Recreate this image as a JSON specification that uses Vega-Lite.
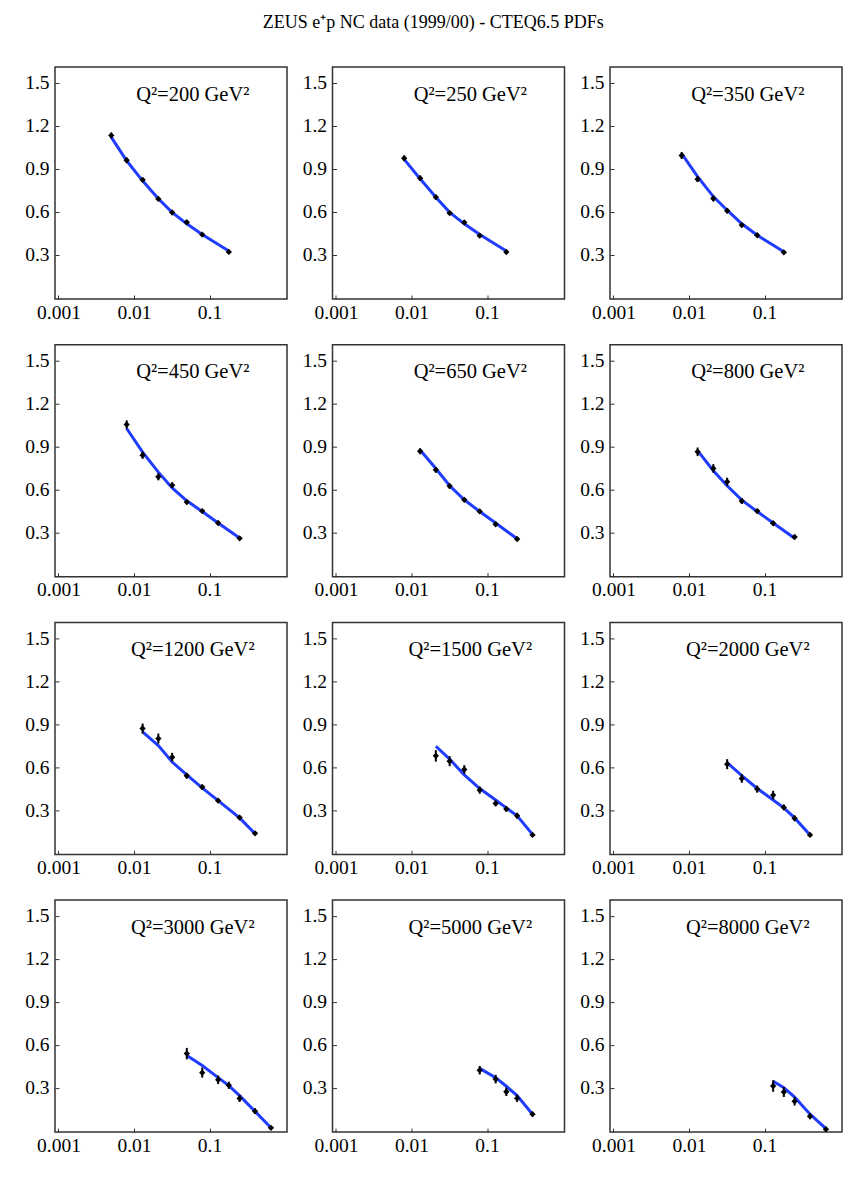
{
  "$schema": "https://vega.github.io/schema/vega-lite/v6.json",
  "padding": {"left": 23, "top": 14, "right": 5, "bottom": 5},
  "background": "white",
  "title": {
    "text": "ZEUS e⁺p NC data (1999/00)  -  CTEQ6.5 PDFs",
    "font": "Liberation Serif",
    "fontSize": 18,
    "fontWeight": "normal",
    "color": "black",
    "anchor": "middle",
    "offset": 34
  },
  "data": {
    "values": [
      {"q2": 200, "label": "Q²=200 GeV²", "x": 0.005, "y": 1.132, "err": 0.02, "theory": 1.12},
      {"q2": 200, "label": "Q²=200 GeV²", "x": 0.008, "y": 0.959, "err": 0.018, "theory": 0.955},
      {"q2": 200, "label": "Q²=200 GeV²", "x": 0.013, "y": 0.822, "err": 0.015, "theory": 0.815},
      {"q2": 200, "label": "Q²=200 GeV²", "x": 0.021, "y": 0.689, "err": 0.014, "theory": 0.69},
      {"q2": 200, "label": "Q²=200 GeV²", "x": 0.032, "y": 0.594, "err": 0.013, "theory": 0.595},
      {"q2": 200, "label": "Q²=200 GeV²", "x": 0.05, "y": 0.526, "err": 0.012, "theory": 0.515},
      {"q2": 200, "label": "Q²=200 GeV²", "x": 0.08, "y": 0.44, "err": 0.011, "theory": 0.44},
      {"q2": 200, "label": "Q²=200 GeV²", "x": 0.18, "y": 0.319, "err": 0.01, "theory": 0.325},

      {"q2": 250, "label": "Q²=250 GeV²", "x": 0.008, "y": 0.973, "err": 0.02, "theory": 0.965},
      {"q2": 250, "label": "Q²=250 GeV²", "x": 0.013, "y": 0.834, "err": 0.018, "theory": 0.83},
      {"q2": 250, "label": "Q²=250 GeV²", "x": 0.021, "y": 0.701, "err": 0.016, "theory": 0.70},
      {"q2": 250, "label": "Q²=250 GeV²", "x": 0.032, "y": 0.59, "err": 0.014, "theory": 0.595},
      {"q2": 250, "label": "Q²=250 GeV²", "x": 0.05, "y": 0.525, "err": 0.013, "theory": 0.515},
      {"q2": 250, "label": "Q²=250 GeV²", "x": 0.08, "y": 0.432, "err": 0.011, "theory": 0.44},
      {"q2": 250, "label": "Q²=250 GeV²", "x": 0.18, "y": 0.318, "err": 0.01, "theory": 0.325},

      {"q2": 350, "label": "Q²=350 GeV²", "x": 0.008, "y": 0.992, "err": 0.025, "theory": 1.005},
      {"q2": 350, "label": "Q²=350 GeV²", "x": 0.013, "y": 0.827, "err": 0.02, "theory": 0.845},
      {"q2": 350, "label": "Q²=350 GeV²", "x": 0.021, "y": 0.692, "err": 0.02, "theory": 0.705},
      {"q2": 350, "label": "Q²=350 GeV²", "x": 0.032, "y": 0.606, "err": 0.018, "theory": 0.61},
      {"q2": 350, "label": "Q²=350 GeV²", "x": 0.05, "y": 0.506, "err": 0.014, "theory": 0.515},
      {"q2": 350, "label": "Q²=350 GeV²", "x": 0.08, "y": 0.435, "err": 0.012, "theory": 0.435},
      {"q2": 350, "label": "Q²=350 GeV²", "x": 0.18, "y": 0.316, "err": 0.01, "theory": 0.32},

      {"q2": 450, "label": "Q²=450 GeV²", "x": 0.008, "y": 1.052, "err": 0.03, "theory": 1.025},
      {"q2": 450, "label": "Q²=450 GeV²", "x": 0.013, "y": 0.838, "err": 0.025, "theory": 0.86},
      {"q2": 450, "label": "Q²=450 GeV²", "x": 0.021, "y": 0.688, "err": 0.025, "theory": 0.72},
      {"q2": 450, "label": "Q²=450 GeV²", "x": 0.032, "y": 0.629, "err": 0.02, "theory": 0.61},
      {"q2": 450, "label": "Q²=450 GeV²", "x": 0.05, "y": 0.511, "err": 0.015, "theory": 0.52},
      {"q2": 450, "label": "Q²=450 GeV²", "x": 0.08, "y": 0.448, "err": 0.012, "theory": 0.445},
      {"q2": 450, "label": "Q²=450 GeV²", "x": 0.13, "y": 0.365, "err": 0.012, "theory": 0.365},
      {"q2": 450, "label": "Q²=450 GeV²", "x": 0.25, "y": 0.258, "err": 0.01, "theory": 0.26},

      {"q2": 650, "label": "Q²=650 GeV²", "x": 0.013, "y": 0.866, "err": 0.02, "theory": 0.875},
      {"q2": 650, "label": "Q²=650 GeV²", "x": 0.021, "y": 0.736, "err": 0.02, "theory": 0.745},
      {"q2": 650, "label": "Q²=650 GeV²", "x": 0.032, "y": 0.623, "err": 0.018, "theory": 0.625},
      {"q2": 650, "label": "Q²=650 GeV²", "x": 0.05, "y": 0.527, "err": 0.015, "theory": 0.527},
      {"q2": 650, "label": "Q²=650 GeV²", "x": 0.08, "y": 0.446, "err": 0.013, "theory": 0.445},
      {"q2": 650, "label": "Q²=650 GeV²", "x": 0.13, "y": 0.356, "err": 0.012, "theory": 0.365},
      {"q2": 650, "label": "Q²=650 GeV²", "x": 0.25, "y": 0.253, "err": 0.01, "theory": 0.255},

      {"q2": 800, "label": "Q²=800 GeV²", "x": 0.013, "y": 0.862, "err": 0.03, "theory": 0.87},
      {"q2": 800, "label": "Q²=800 GeV²", "x": 0.021, "y": 0.746, "err": 0.03, "theory": 0.73},
      {"q2": 800, "label": "Q²=800 GeV²", "x": 0.032, "y": 0.653, "err": 0.028, "theory": 0.625},
      {"q2": 800, "label": "Q²=800 GeV²", "x": 0.05, "y": 0.518, "err": 0.02, "theory": 0.525},
      {"q2": 800, "label": "Q²=800 GeV²", "x": 0.08, "y": 0.448, "err": 0.015, "theory": 0.445},
      {"q2": 800, "label": "Q²=800 GeV²", "x": 0.13, "y": 0.363, "err": 0.015, "theory": 0.365},
      {"q2": 800, "label": "Q²=800 GeV²", "x": 0.25, "y": 0.267, "err": 0.012, "theory": 0.258},

      {"q2": 1200, "label": "Q²=1200 GeV²", "x": 0.013, "y": 0.869, "err": 0.035, "theory": 0.845},
      {"q2": 1200, "label": "Q²=1200 GeV²", "x": 0.021, "y": 0.799, "err": 0.035, "theory": 0.75},
      {"q2": 1200, "label": "Q²=1200 GeV²", "x": 0.032, "y": 0.669, "err": 0.03, "theory": 0.635},
      {"q2": 1200, "label": "Q²=1200 GeV²", "x": 0.05, "y": 0.539, "err": 0.02, "theory": 0.545},
      {"q2": 1200, "label": "Q²=1200 GeV²", "x": 0.08, "y": 0.46, "err": 0.018, "theory": 0.455},
      {"q2": 1200, "label": "Q²=1200 GeV²", "x": 0.13, "y": 0.365, "err": 0.015, "theory": 0.365},
      {"q2": 1200, "label": "Q²=1200 GeV²", "x": 0.25, "y": 0.247, "err": 0.012, "theory": 0.245},
      {"q2": 1200, "label": "Q²=1200 GeV²", "x": 0.4, "y": 0.137, "err": 0.01, "theory": 0.135},

      {"q2": 1500, "label": "Q²=1500 GeV²", "x": 0.021, "y": 0.678, "err": 0.04, "theory": 0.745},
      {"q2": 1500, "label": "Q²=1500 GeV²", "x": 0.032, "y": 0.641, "err": 0.035, "theory": 0.655},
      {"q2": 1500, "label": "Q²=1500 GeV²", "x": 0.05, "y": 0.583, "err": 0.03, "theory": 0.545},
      {"q2": 1500, "label": "Q²=1500 GeV²", "x": 0.08, "y": 0.439, "err": 0.025, "theory": 0.45},
      {"q2": 1500, "label": "Q²=1500 GeV²", "x": 0.13, "y": 0.346, "err": 0.02, "theory": 0.37},
      {"q2": 1500, "label": "Q²=1500 GeV²", "x": 0.18, "y": 0.307, "err": 0.018, "theory": 0.315},
      {"q2": 1500, "label": "Q²=1500 GeV²", "x": 0.25, "y": 0.26, "err": 0.02, "theory": 0.26},
      {"q2": 1500, "label": "Q²=1500 GeV²", "x": 0.4, "y": 0.126, "err": 0.01, "theory": 0.13},

      {"q2": 2000, "label": "Q²=2000 GeV²", "x": 0.032, "y": 0.62, "err": 0.035, "theory": 0.63},
      {"q2": 2000, "label": "Q²=2000 GeV²", "x": 0.05, "y": 0.52, "err": 0.03, "theory": 0.54},
      {"q2": 2000, "label": "Q²=2000 GeV²", "x": 0.08, "y": 0.446, "err": 0.025, "theory": 0.45},
      {"q2": 2000, "label": "Q²=2000 GeV²", "x": 0.13, "y": 0.404, "err": 0.03, "theory": 0.37},
      {"q2": 2000, "label": "Q²=2000 GeV²", "x": 0.18, "y": 0.318, "err": 0.02, "theory": 0.315},
      {"q2": 2000, "label": "Q²=2000 GeV²", "x": 0.25, "y": 0.242, "err": 0.02, "theory": 0.245},
      {"q2": 2000, "label": "Q²=2000 GeV²", "x": 0.4, "y": 0.126, "err": 0.012, "theory": 0.125},

      {"q2": 3000, "label": "Q²=3000 GeV²", "x": 0.05, "y": 0.538, "err": 0.04, "theory": 0.525},
      {"q2": 3000, "label": "Q²=3000 GeV²", "x": 0.08, "y": 0.405, "err": 0.035, "theory": 0.455},
      {"q2": 3000, "label": "Q²=3000 GeV²", "x": 0.13, "y": 0.355, "err": 0.03, "theory": 0.37},
      {"q2": 3000, "label": "Q²=3000 GeV²", "x": 0.18, "y": 0.317, "err": 0.025, "theory": 0.315},
      {"q2": 3000, "label": "Q²=3000 GeV²", "x": 0.25, "y": 0.225, "err": 0.025, "theory": 0.245},
      {"q2": 3000, "label": "Q²=3000 GeV²", "x": 0.4, "y": 0.136, "err": 0.02, "theory": 0.135},
      {"q2": 3000, "label": "Q²=3000 GeV²", "x": 0.65, "y": 0.02, "err": 0.008, "theory": 0.02},

      {"q2": 5000, "label": "Q²=5000 GeV²", "x": 0.08, "y": 0.422, "err": 0.03, "theory": 0.435},
      {"q2": 5000, "label": "Q²=5000 GeV²", "x": 0.13, "y": 0.36, "err": 0.03, "theory": 0.37},
      {"q2": 5000, "label": "Q²=5000 GeV²", "x": 0.18, "y": 0.272, "err": 0.03, "theory": 0.31},
      {"q2": 5000, "label": "Q²=5000 GeV²", "x": 0.25, "y": 0.226, "err": 0.025, "theory": 0.245},
      {"q2": 5000, "label": "Q²=5000 GeV²", "x": 0.4, "y": 0.115, "err": 0.015, "theory": 0.115},

      {"q2": 8000, "label": "Q²=8000 GeV²", "x": 0.13, "y": 0.312, "err": 0.04, "theory": 0.345},
      {"q2": 8000, "label": "Q²=8000 GeV²", "x": 0.18, "y": 0.27, "err": 0.035, "theory": 0.30},
      {"q2": 8000, "label": "Q²=8000 GeV²", "x": 0.25, "y": 0.205, "err": 0.03, "theory": 0.235},
      {"q2": 8000, "label": "Q²=8000 GeV²", "x": 0.4, "y": 0.10, "err": 0.02, "theory": 0.115},
      {"q2": 8000, "label": "Q²=8000 GeV²", "x": 0.65, "y": 0.01, "err": 0.008, "theory": 0.015}
    ]
  },
  "facet": {
    "field": "q2",
    "type": "ordinal",
    "title": null,
    "header": {"labels": false, "title": null, "labelExpr": "''", "labelFontSize": 0, "labelPadding": 0}
  },
  "columns": 3,
  "spacing": {"row": 45.7, "column": 45.5},
  "bounds": "flush",
  "resolve": {"axis": {"x": "independent", "y": "independent"}},
  "spec": {
    "width": 232,
    "height": 232,
    "layer": [
      {
        "mark": {"type": "line", "color": "#1f3cff", "strokeWidth": 3, "clip": true},
        "encoding": {
          "x": {
            "field": "x",
            "type": "quantitative",
            "scale": {"type": "log", "domain": [0.0009, 1.06], "nice": false},
            "axis": {"values": [0.001, 0.01, 0.1], "format": "~g", "title": null}
          },
          "y": {
            "field": "theory",
            "type": "quantitative",
            "scale": {"domain": [-0.01, 1.61], "nice": false, "zero": false},
            "axis": {"values": [0.3, 0.6, 0.9, 1.2, 1.5], "format": ".1f", "title": null}
          },
          "order": {"field": "x", "type": "quantitative"}
        }
      },
      {
        "mark": {"type": "errorbar", "ticks": false, "color": "black", "thickness": 2},
        "encoding": {
          "x": {"field": "x", "type": "quantitative"},
          "y": {"field": "y", "type": "quantitative"},
          "yError": {"field": "err"}
        }
      },
      {
        "mark": {"type": "point", "shape": "diamond", "filled": true, "color": "black", "size": 40, "opacity": 1},
        "encoding": {
          "x": {"field": "x", "type": "quantitative"},
          "y": {"field": "y", "type": "quantitative"}
        }
      },
      {
        "transform": [
          {"aggregate": [{"op": "count", "as": "n"}], "groupby": ["q2", "label"]}
        ],
        "mark": {"type": "text", "font": "Liberation Serif", "fontSize": 20.5, "align": "center", "baseline": "alphabetic", "color": "black"},
        "encoding": {
          "x": {"datum": 0.06},
          "y": {"datum": 1.375},
          "text": {"field": "label"}
        }
      }
    ]
  },
  "config": {
    "font": "Liberation Serif",
    "view": {"stroke": "#333333", "strokeWidth": 1.5},
    "header": {"labels": false, "title": null, "labelFontSize": 0, "labelPadding": 0},
    "headerFacet": {"labels": false, "title": null, "labelFontSize": 0, "labelPadding": 0},
    "axis": {
      "grid": false,
      "domain": false,
      "ticks": true,
      "tickSize": -4,
      "tickColor": "#333333",
      "tickWidth": 1,
      "labelFont": "Liberation Serif",
      "labelFontSize": 19.5,
      "labelColor": "black",
      "labelPadding": 10
    },
    "axisX": {"labelPadding": 8}
  }
}
